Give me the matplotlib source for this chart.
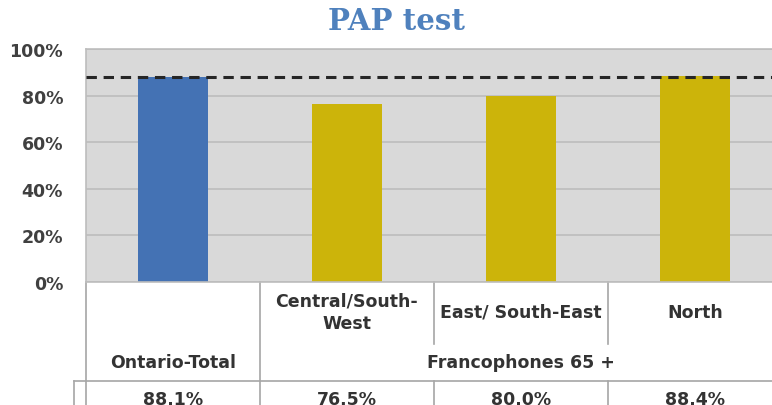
import matplotlib
matplotlib.use("Agg")
import matplotlib.pyplot as plt
from matplotlib.transforms import blended_transform_factory
from matplotlib.ticker import PercentFormatter

# DATA
categories = ["Ontario-Total", "Central/South-\nWest", "East/ South-East", "North"]
values = [0.881, 0.765, 0.800, 0.884]
value_labels = ["88.1%", "76.5%", "80.0%", "88.4%"]
bar_colors = ["#4472B4", "#CCB40A", "#CCB40A", "#CCB40A"]
group_label = "Francophones 65 +"
reference = 0.881  # Ontario total, dashed line
y_ticks = [0, 0.2, 0.4, 0.6, 0.8, 1.0]

# FIGURE (pixel layout of the reference)
W, H = 772, 406
fig = plt.figure(figsize=(W / 100, H / 100), dpi=100)
y0, y1 = 283, 50  # pixel rows of 0% and 100%
ax = fig.add_axes([86 / W, (H - y0) / H, (782 - 86) / W, (y0 - y1) / H])

x = list(range(len(categories)))
ax.bar(x, values, width=0.4, color=bar_colors, zorder=2)
ax.axhline(reference, color="#262626", lw=2.2, dashes=(3.4, 2.2), zorder=3)

ax.set_xlim(-0.5, len(categories) - 0.5)
ax.set_ylim(0, 1)
ax.set_facecolor("#D9D9D9")
ax.set_yticks(y_ticks)
ax.yaxis.set_major_formatter(PercentFormatter(1.0, decimals=0))
ax.grid(axis="y", color="#BDBDBD", lw=1.2, zorder=1)
ax.set_xticks([])
ax.tick_params(axis="y", length=0, pad=16.5, labelsize=12.5, labelcolor="#404040")
for lab in ax.get_yticklabels():
    lab.set_fontweight("bold")
for side in ["top", "left", "bottom"]:
    ax.spines[side].set_color("#BDBDBD")
    ax.spines[side].set_linewidth(1.2)
ax.spines["right"].set_visible(False)

# TITLE
fig.text(396 / W, 1 - 22 / H, "PAP test", ha="center", va="center",
         fontsize=21, fontweight="bold", color="#4F81BD", family="DejaVu Serif")

# TABLE UNDER THE AXIS
tr = blended_transform_factory(ax.transData, ax.transAxes)


def ay(py):
    return (y0 - py) / (y0 - y1)


line_kw = dict(color="#A6A6A6", lw=1.2, transform=tr, clip_on=False)
text_kw = dict(ha="center", va="center", fontsize=12.5, fontweight="bold",
               color="#333333", transform=tr, clip_on=False)

left_x = -0.5 - 12 / 174
ax.plot([-0.5, -0.5], [ay(283), ay(420)], **line_kw)
ax.plot([0.5, 0.5], [ay(283), ay(420)], **line_kw)
for b in [1.5, 2.5]:
    ax.plot([b, b], [ay(283), ay(345)], **line_kw)
    ax.plot([b, b], [ay(382), ay(420)], **line_kw)
ax.plot([left_x, left_x], [ay(382), ay(420)], **line_kw)
ax.plot([left_x, len(categories)], [ay(382), ay(382)], **line_kw)

ax.text(x[0], ay(363), categories[0], **text_kw)
for i in x[1:]:
    ax.text(i, ay(313), categories[i], linespacing=1.3, **text_kw)
ax.text((x[1] + x[-1]) / 2, ay(363), group_label, **text_kw)
for i in x:
    ax.text(i, ay(400), value_labels[i], **text_kw)

fig.savefig("out.png", dpi=100)
